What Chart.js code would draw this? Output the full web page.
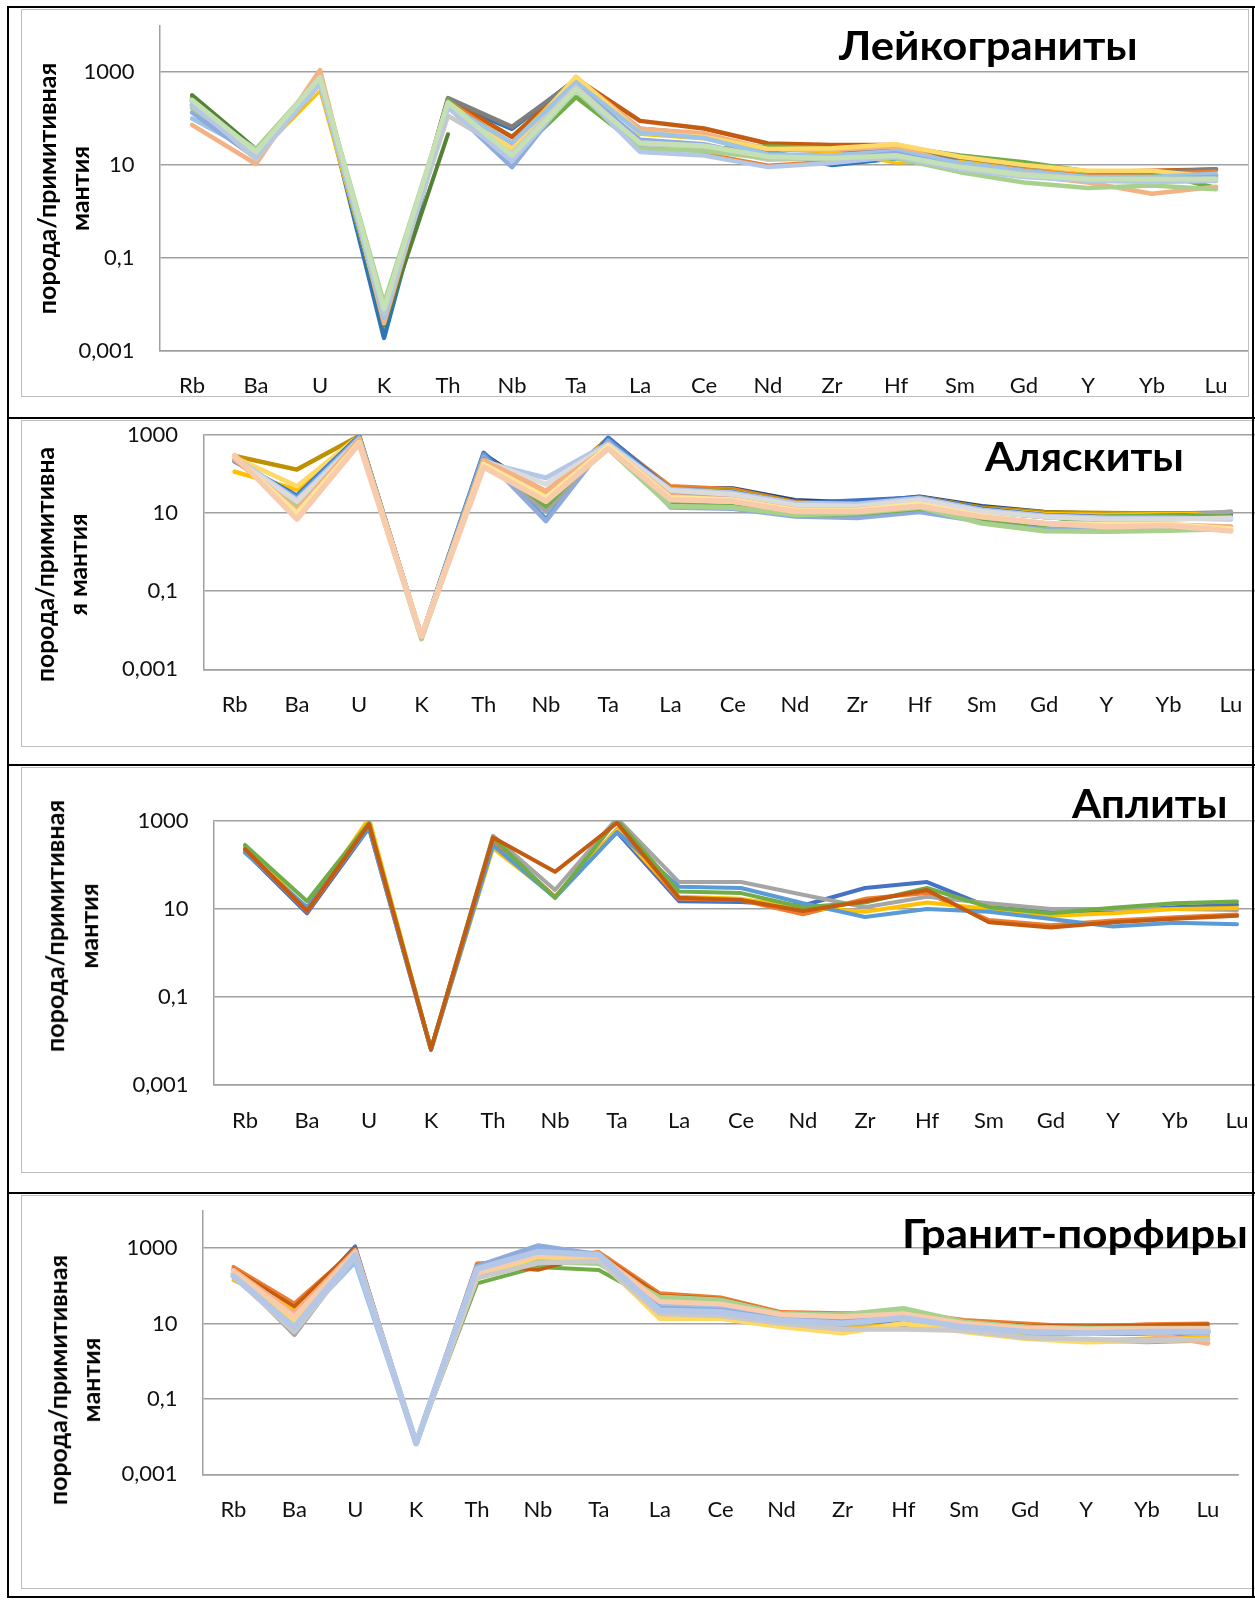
<!DOCTYPE html>
<html lang="ru">
<head>
<meta charset="utf-8">
<title>Спайдер-диаграммы гранитоидов</title>
<script src="https://cdn.jsdelivr.net/npm/chart.js@4.4.1/dist/chart.umd.min.js"></script>
<style>
  html, body { margin: 0; padding: 0; background: #fff; }
  #page { position: relative; width: 1255px; height: 1604px; overflow: hidden; background: #fff; }
  #page canvas { position: absolute; left: 0; z-index: 2; }
  .rule { position: absolute; background: #000; z-index: 6; }
  .frame { position: absolute; box-sizing: border-box; border: 1.5px solid #BFBFBF; z-index: 1; }
  .title { position: absolute; font-family: Lato, 'Noto Sans', sans-serif; font-weight: 700; font-size: 41px; line-height: 50px; white-space: nowrap; color: #000; z-index: 4; transform-origin: 0 0; }
  .ytitle { position: absolute; font-family: Lato, 'Noto Sans', sans-serif; font-weight: 700; color: #000; text-align: center; white-space: nowrap; z-index: 4; }
  .ytitle span { display: inline-block; }
</style>
</head>
<body>
<div id="page"></div>
<script>
// ---- data -------------------------------------------------------------
const elements = ['Rb', 'Ba', 'U', 'K', 'Th', 'Nb', 'Ta', 'La', 'Ce', 'Nd', 'Zr', 'Hf', 'Sm', 'Gd', 'Y', 'Yb', 'Lu'];
const yTickValues = [0.001, 0.1, 10, 1000];
const yTickLabels = ['0,001', '0,1', '10', '1000'];
const panelTitles = ['Лейкограниты', 'Аляскиты', 'Аплиты', 'Гранит-порфиры'];
const axisTitles = [
  ['порода/примитивная', 'мантия'],
  ['порода/примитивна', 'я мантия'],
  ['порода/примитивная', 'мантия'],
  ['порода/примитивная', 'мантия']
];

// Лейкограниты: порода / примитивная мантия
const leucogranites = [
  [200, 16, 650, 0.0019, 230, 60, 700, 60, 46, 20, 10, 14, 10, 7, 5.5, 5.5, 6],
  [240, 17, 700, 0.004, 260, 40, 720, 89, 61, 29, 27, 27, 14, 9, 7, 7.5, 8],
  [250, 18, 680, 0.004, 275, 66, 660, 55, 42, 22, 20, 22, 12, 8.5, 6.5, 7, 8.1],
  [210, 15, 390, 0.004, 240, 30, 775, 45, 36, 22, 19, 11, 12, 8, 6.5, 6.8, 6.5],
  [230, 15, 640, 0.004, 250, 28, 720, 30, 18, 10, 12, 16, 11, 8, 6, 6.5, 7.5],
  [290, 20, 700, 0.005, 250, 14, 290, 25, 22, 25, 23, 25, 16, 11.5, 7.2, 7, 3.2],
  [320, 22, 700, 0.0035, 46, null, null, null, null, null, null, null, null, null, null, null, null],
  [73, 10.5, 1100, 0.0039, 200, 20, 760, 60, 48, 22, 21, 25, 10, 6, 4.2, 2.4, 3.4],
  [180, 14, 600, 0.005, 220, 22, 800, 50, 40, 22, 23, 28, 15, 10, 7.5, 7.5, 5.5],
  [100, 18, 620, 0.005, 190, 30, 600, 50, 38, 17, 16, 20, 11, 7.5, 5.5, 5.5, 6.5],
  [135, 14, 550, 0.006, 180, 9, 500, 35, 28, 14, 13, 18, 9, 6, 5, 5, 5.5],
  [220, 13, 600, 0.006, 115, 18, 500, 28, 24, 13, 14, 15, 9, 6.5, 5, 4.8, 5],
  [170, 22, 760, 0.0105, 205, 13, 400, 22, 20, 14, 14, 14, 7, 4.2, 3.2, 3.6, 3.0],
  [190, 15, 550, 0.0063, 170, 12, 450, 19, 16, 9, 11, 15, 8, 5.5, 4.6, 4.3, 4.5],
  [250, 19, 780, 0.008, 220, 16, 430, 30, 26, 15, 14, 16, 9, 6, 5, 5, 5]
];

// Аляскиты
const alaskites = [
  [230, 22, 900, 0.007, 330, 30, 850, 45, 44, 22, 19, 27, 15.5, 11, 9.8, 10, 10.5],
  [250, 25, 850, 0.007, 300, 28, 820, 50, 42, 20, 17, 26, 14, 10, 9.5, 9.5, 9],
  [290, 130, 950, 0.007, 280, 35, 800, 42, 38, 19, 17, 25, 14, 10.5, 10, 9.8, 10],
  [115, 40, 950, 0.007, 260, 30, 780, 40, 36, 18, 16, 24, 13, 9.5, 9, 9.5, 9.5],
  [270, 49, 950, 0.007, 240, 25, 700, 35, 32, 16, 15, 22, 12, 8.5, 7.5, 8, 8],
  [220, 28, 950, 0.007, 350, 12, 850, 40, 35, 18, 21, 25, 13, 9, 8, 8.5, 9],
  [210, 25, 900, 0.007, 320, 7, 750, 35, 30, 14, 13, 20, 11, 8, 6.5, 7, 8],
  [230, 20, 800, 0.007, 280, 6.2, 700, 14, 13, 8.2, 7.5, 10.6, 6, 4, 4, 4.2, 4.5],
  [240, 18, 850, 0.007, 250, 11, 650, 32, 28, 15, 14, 20, 11, 8, 7, 7.5, 11],
  [260, 17, 800, 0.007, 240, 15, 600, 17, 15, 9, 9.5, 13, 7, 5, 8.2, 8.5, 8.2],
  [250, 15, 700, 0.006, 200, 20, 450, 15, 14, 9, 10, 14, 5.5, 3.5, 3.4, 3.6, 4],
  [270, 22, 800, 0.007, 200, 80, 600, 40, 33, 18, 17, 24, 12, 8.5, 7.5, 7.5, 7],
  [250, 20, 700, 0.007, 220, 55, 550, 38, 30, 16, 15, 22, 11, 8, 7, 7, 7.5],
  [240, 12, 750, 0.007, 220, 37, 500, 27, 22, 12.3, 12.3, 16, 8, 5.5, 5, 5, 4.5],
  [280, 10, 650, 0.007, 180, 25, 520, 25, 22, 12, 12, 17, 8.5, 5.5, 5.2, 5.2, 4],
  [300, 7, 600, 0.007, 150, 20, 450, 22, 20, 11, 11, 15, 8, 5.5, 4.5, 4.8, 3.5]
];

// Аплиты
const aplites = [
  [200, 8, 700, 0.0065, 300, 19, 560, 15, 14.5, 12, 30, 41, 11, 8.5, 9, 11, 12.5],
  [220, 8.7, 800, 0.0065, 350, 19, 650, 17, 16, 7.6, 17, 23, 5.6, 4.3, 5.5, 6.5, 7.5],
  [260, 10, 900, 0.0065, 460, 27, 1150, 41, 41, 21, 11, 19, 13.5, 10, 10, 10, 9.5],
  [240, 10, 1150, 0.0065, 240, 19, 630, 19, 17, 11, 8.7, 14, 10, 7, 8, 10, 10.5],
  [190, 11, 680, 0.0062, 280, 18, 560, 32, 30, 13.5, 6.6, 10, 8.7, 5.9, 4, 4.9, 4.5],
  [285, 15, 900, 0.0065, 420, 18, 1050, 25, 23, 11, 14, 30, 11, 8, 10.7, 13.5, 14.8],
  [230, 9, 850, 0.0065, 420, 70, 900, 18, 16, 9, 15, 27, 5, 3.8, 5, 6, 7]
];

// Гранит-порфиры
const porphyries = [
  [200, 20, 1130, 0.0066, 260, 300, 600, 23, 20, 12.3, 8.2, 12.3, 7.4, 5.4, 5.2, 5.3, 4.9],
  [316, 34, 900, 0.0066, 390, 500, 780, 63, 49, 20, 18.6, 20, 12.3, 10, 8, 9.5, 10],
  [220, 5, 700, 0.0066, 200, 400, 500, 20, 18, 11, 8.5, 8.2, 7, 4.5, 3.6, 3.2, 3.6],
  [140, 25, 900, 0.0066, 230, 450, 550, 17, 15, 10, 7, 10, 7, 4.5, 3.5, 4, 4.5],
  [250, 12.3, 800, 0.0066, 115, 316, 260, 34, 28, 16, 10, 18, 10, 8.2, 8.2, 8.5, 8.2],
  [280, 28, 1000, 0.0066, 350, 260, 700, 55, 45, 19, 17, 22, 11, 9, 8.5, 9, 9.5],
  [190, 9, 430, 0.0066, 300, 900, 700, 30, 27, 14, 12, 18, 9, 6, 6, 6.5, 6.5],
  [210, 14, 800, 0.0066, 320, 1130, 650, 25, 22, 13, 11, 16, 8, 6.5, 6, 6, 6],
  [260, 18, 850, 0.0066, 210, 710, 640, 42, 38, 18, 16, 20, 10, 8, 6.5, 5.5, 3],
  [230, 10, 700, 0.0066, 180, 430, 390, 50, 42, 18, 17, 25, 11, 8, 7.5, 7.5, 7.5],
  [200, 12, 650, 0.0066, 170, 600, 500, 13.6, 13.6, 8.2, 5.6, 10, 6, 4, 3.2, 3.5, 3.8],
  [180, 6, 600, 0.0066, 160, 400, 450, 18, 16, 10, 7, 7, 6.5, 4.2, 3.8, 3.5, 3.8],
  [240, 15, 750, 0.0066, 220, 650, 600, 38, 33, 17, 15, 18, 10, 7.5, 7, 7.2, 7.2],
  [180, 8, 650, 0.0066, 280, 800, 650, 22, 20, 12, 10, 14, 8, 6, 5.5, 6, 6]
];

// ---- line styles ------------------------------------------------------
const leucograniteColors = ['#2E75B6', '#C55A11', '#7F7F7F', '#FFC000', '#ED7D31', '#70AD47', '#548235', '#F4B183',
  '#FFD966', '#9DC3E6', '#8FAADC', '#C9C9C9', '#A9D18E', '#B4C7E7', '#C5E0B4'];
const leucograniteWidths = [4.5, 4.5, 4.5, 3, 3, 4.5, 4, 4.5, 4.5, 4.5, 4.5, 4.5, 4.5, 4.5, 5];
const alaskiteColors = ['#264478', '#ED7D31', '#BF9000', '#FFC000', '#FFD966', '#4472C4', '#5B9BD5', '#8FAADC',
  '#A5A5A5', '#70AD47', '#A9D18E', '#B4C7E7', '#DBDBDB', '#F4B183', '#FFE699', '#F8CBAD'];
const alaskiteWidths = [3.5, 3.5, 4.5, 4.5, 4.5, 4.5, 4.5, 4.5, 4.5, 4.5, 5, 5, 5, 5, 5, 5.5];
const apliteColors = ['#4472C4', '#ED7D31', '#A5A5A5', '#FFC000', '#5B9BD5', '#70AD47', '#C55A11'];
const apliteWidths = [4, 4, 4, 4, 4, 4, 4];
const porphyryColors = ['#4472C4', '#ED7D31', '#A5A5A5', '#FFC000', '#70AD47', '#C55A11', '#9DC3E6', '#8FAADC',
  '#F4B183', '#A9D18E', '#FFD966', '#C9C9C9', '#F8CBAD', '#B4C7E7'];
const porphyryWidths = [3.5, 4, 4.5, 4, 4, 3.5, 5, 5.5, 5, 5, 5, 5, 5, 6];

// ---- page geometry ----------------------------------------------------
const GRID = '#A0A0A0';
const TICK_FONT = { family: 'Lato, "Noto Sans", sans-serif', size: 22 };
const panels = [
  { samples: leucogranites, colors: leucograniteColors, widths: leucograniteWidths,
    frame: [21, 9, 1228, 388], plotLeft: 160, plotRight: 1248, plotTop: 25.6, plotBottom: 350.8, yMax: 10000,
    title: [839, 60, 299], ytitle: [62.25, 188, 32.5, 251] },
  { samples: alaskites, colors: alaskiteColors, widths: alaskiteWidths,
    frame: [21, 420, 1300, 327], plotLeft: 203.5, plotRight: 1262, plotTop: 435, plotBottom: 669.3, yMax: 1000,
    title: [984.5, 470.7, 199.3], ytitle: [61.25, 564.5, 32.5, 235] },
  { samples: aplites, colors: apliteColors, widths: apliteWidths,
    frame: [21, 767, 1300, 406], plotLeft: 214, plotRight: 1268, plotTop: 821, plotBottom: 1085, yMax: 1000,
    title: [1071.6, 818.3, 155.9], ytitle: [71, 926, 34, 252] },
  { samples: porphyries, colors: porphyryColors, widths: porphyryWidths,
    frame: [21, 1195, 1300, 394], plotLeft: 203, plotRight: 1238.3, plotTop: 1210.3, plotBottom: 1474.3, yMax: 10000,
    title: [901.5, 1248.3, 346.3], ytitle: [73.5, 1380, 33, 250] }
];

const page = document.getElementById('page');

function addBox(cls, l, t, w, h) {
  const d = document.createElement('div');
  d.className = cls;
  Object.assign(d.style, { left: l + 'px', top: t + 'px', width: w + 'px', height: h + 'px' });
  page.appendChild(d);
  return d;
}

// table rules around and between the four diagrams
addBox('rule', 7, 6, 1248, 2);
addBox('rule', 7, 6, 2, 1592);
addBox('rule', 1252, 6, 2, 1592);
addBox('rule', 7, 417, 1248, 2);
addBox('rule', 7, 764, 1248, 2);
addBox('rule', 7, 1192, 1248, 2);
addBox('rule', 7, 1596, 1248, 2);

// bold heading, left edge + baseline given, stretched to a set width
function placeTitle(text, left, baseline, width) {
  const el = document.createElement('div');
  el.className = 'title';
  el.textContent = text;
  const mark = document.createElement('span');
  Object.assign(mark.style, { display: 'inline-block', width: '0px', height: '0px', verticalAlign: 'baseline' });
  el.appendChild(mark);
  el.style.left = '0px';
  el.style.top = '0px';
  page.appendChild(el);
  const base = mark.offsetTop;
  const natural = el.offsetWidth;
  el.style.left = left + 'px';
  el.style.top = (baseline - base) + 'px';
  el.style.transform = 'scaleX(' + (width / natural) + ')';
}

// rotated two-line axis caption centred on (cx, cy)
function placeAxisTitle(lines, cx, cy, gap, length) {
  const el = document.createElement('div');
  el.className = 'ytitle';
  el.style.fontSize = '24px';
  el.style.lineHeight = gap + 'px';
  const spans = lines.map(t => {
    const row = document.createElement('div');
    const s = document.createElement('span');
    s.textContent = t;
    row.appendChild(s);
    el.appendChild(row);
    return s;
  });
  page.appendChild(el);
  const size = 24 * length / spans[0].offsetWidth;
  el.style.fontSize = size.toFixed(2) + 'px';
  const w = el.offsetWidth, h = el.offsetHeight;
  el.style.left = (cx - w / 2) + 'px';
  el.style.top = (cy - h / 2) + 'px';
  el.style.transform = 'rotate(-90deg)';
}

function buildChart(p) {
  const [fl, ft, fw, fh] = p.frame;
  addBox('frame', fl, ft, fw, fh);

  const canvas = document.createElement('canvas');
  const cw = Math.ceil(p.plotRight);
  canvas.width = cw;
  canvas.height = fh;
  canvas.style.top = ft + 'px';
  page.appendChild(canvas);

  const padTop = p.plotTop - ft;
  const xHeight = ft + fh - p.plotBottom;
  const n = p.samples.length;

  new Chart(canvas, {
    type: 'line',
    data: {
      labels: elements,
      datasets: p.samples.map((vals, i) => ({
        label: 'обр. ' + (i + 1),
        data: vals,
        borderColor: p.colors[i],
        backgroundColor: p.colors[i],
        borderWidth: p.widths[i],
        pointRadius: 0,
        tension: 0,
        fill: false,
        spanGaps: false,
        borderJoinStyle: 'round',
        borderCapStyle: 'round',
        order: n - i
      }))
    },
    options: {
      responsive: false,
      animation: false,
      events: [],
      layout: { padding: { top: padTop, left: 0, right: cw - p.plotRight, bottom: 0 } },
      plugins: { legend: { display: false }, tooltip: { enabled: false }, title: { display: false } },
      scales: {
        x: {
          type: 'category',
          offset: true,
          grid: { display: true, drawOnChartArea: false, drawTicks: true, tickLength: 22.3, tickColor: 'rgba(0,0,0,0)' },
          border: { display: true, color: GRID, width: 1.5 },
          ticks: { padding: 0, autoSkip: false, maxRotation: 0, minRotation: 0, color: '#111', font: TICK_FONT },
          afterFit: s => { s.height = xHeight; }
        },
        y: {
          type: 'logarithmic',
          min: 0.001,
          max: p.yMax,
          afterBuildTicks: s => { s.ticks = yTickValues.map(v => ({ value: v })); },
          grid: { color: GRID, lineWidth: 1.5, drawTicks: true, tickLength: 25.5, tickColor: 'rgba(0,0,0,0)' },
          border: { display: true, color: GRID, width: 1.5 },
          ticks: {
            padding: 0, autoSkip: false, color: '#111', font: TICK_FONT,
            callback: v => yTickLabels[yTickValues.indexOf(v)]
          },
          afterFit: s => { s.width = p.plotLeft; }
        }
      }
    }
  });
}

panels.forEach((p, i) => {
  buildChart(p);
  placeTitle(panelTitles[i], p.title[0], p.title[1], p.title[2]);
  placeAxisTitle(axisTitles[i], p.ytitle[0], p.ytitle[1], p.ytitle[2], p.ytitle[3]);
});
</script>
</body>
</html>
